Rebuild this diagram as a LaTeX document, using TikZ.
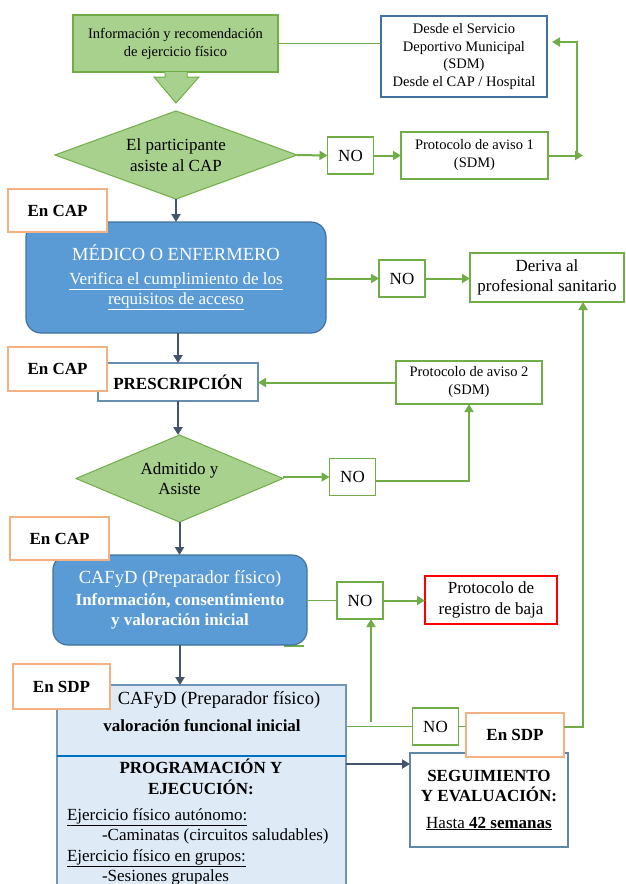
\documentclass[tikz,border=0pt]{standalone}
\usepackage{fontspec}
\setmainfont{Liberation Serif}
\usetikzlibrary{shapes.geometric,arrows.meta,calc}
\definecolor{gfill}{HTML}{A9D18E}
\definecolor{gline}{HTML}{70AD47}
\definecolor{darkc}{HTML}{44546A}
\definecolor{bfill}{HTML}{5B9BD5}
\definecolor{bline}{HTML}{41719C}
\definecolor{lbfill}{HTML}{DEEBF7}
\definecolor{orng}{HTML}{F4B183}
\definecolor{sepc}{HTML}{0070C0}
\begin{document}
\begin{tikzpicture}[x=1pt,y=-1pt,
  every node/.style={inner sep=0pt, outer sep=0pt, align=center, text=black},
  body/.style={font=\fontsize{17}{20.5}\selectfont},
  bodyb/.style={font=\fontsize{17}{20.5}\selectfont\bfseries},
  small/.style={font=\fontsize{14.5}{18}\selectfont},
  gbox/.style={draw=gline, line width=1.5pt, fill=white},
  nobox/.style={gbox, body, minimum width=46, minimum height=37},
  enbox/.style={draw=orng, line width=2pt, fill=white, bodyb},
  bluebox/.style={draw=bline, line width=1.2pt, fill=bfill, rounded corners=15pt, text=white, body},
  garrow/.style={draw=gline, line width=2pt, -{Triangle[length=8pt,width=9pt]}},
  gthin/.style={draw=gline, line width=1.5pt},
  darrow/.style={draw=darkc, line width=2pt, -{Triangle[length=8pt,width=9pt]}},
]
\useasboundingbox (0,0) rectangle (625,884);
\clip (0,0) rectangle (625,884);

% top part
\node[draw=gline, line width=1.2pt, fill=gfill, minimum width=205, minimum height=57, small] (info) at (175.5,43.5) {Información y recomendación\\de ejercicio físico};
\fill[gfill] (165,72) -- (187,72) -- (187,77) -- (199,77) -- (176,103) -- (154,77) -- (165,77) -- cycle;
\draw[gline, line width=1pt] (165,73) -- (165,77) -- (154,77) -- (176,103) -- (199,77) -- (187,77) -- (187,73);
\node[diamond, aspect=2.75, draw=gline, line width=1pt, fill=gfill, minimum width=242, minimum height=88, body] (d1) at (176,155) {El participante\\asiste al CAP};
\node[draw=bline, line width=1.2pt, fill=white, minimum width=166, minimum height=81, font=\fontsize{14.5}{17.5}\selectfont] (desde) at (464,56.5) {Desde el Servicio\\Deportivo Municipal\\(SDM)\\Desde el CAP / Hospital};
\node[nobox] (no1) at (350.5,155.5) {NO};
\node[gbox, small, minimum width=147, minimum height=47] (p1) at (474.5,155.5) {Protocolo de aviso 1\\(SDM)};

\draw[gthin] (info.east) -- (info.east -| desde.west);
\draw[garrow] (d1.east) -- (no1.west);
\draw[garrow] (no1.east) -- (p1.west);
\coordinate (r1) at (583,155.5);
\coordinate (r2) at (577,155.5);
\coordinate (r3) at (577,42);
\coordinate (r4) at (552,42);
\draw[garrow] (p1.east) -- (r1);
\draw[garrow] (r2) -- (r3) -- (r4);

% medico
\node[bluebox, minimum width=300, minimum height=111] (med) at (176,277.5) {{\fontsize{18.5}{22}\selectfont MÉDICO O ENFERMERO}\\[3pt]\underline{Verifica el cumplimiento de los}\\\underline{requisitos de acceso}};
\node[enbox, minimum width=99, minimum height=43] (en1) at (57.5,210.5) {En CAP};
\node[nobox] (no2) at (402,278.5) {NO};
\node[gbox, body, minimum width=154, minimum height=49] (der) at (547,277.5) {Deriva al\\profesional sanitario};
\draw[darrow] (d1.south) -- (d1.south |- med.north);
\draw[garrow] (no2.west -| med.east) -- (no2.west);
\draw[garrow] (no2.east) -- (no2.east -| der.west);

% prescripcion
\node[draw=bline!80, line width=1.2pt, fill=white, minimum width=160, minimum height=38, bodyb] (presc) at (178,382) {PRESCRIPCIÓN};
\node[enbox, minimum width=99, minimum height=44] (en2) at (57.5,369) {En CAP};
\node[gbox, small, minimum width=146, minimum height=43] (p2) at (469,382.5) {Protocolo de aviso 2\\(SDM)};
\draw[darrow] (presc.north |- med.south) -- (presc.north);
\draw[garrow] (p2.west) -- (p2.west -| presc.east);

% admitido
\node[diamond, aspect=2.38, draw=gline, line width=1pt, fill=gfill, minimum width=207, minimum height=87, body] (d2) at (179.5,478.5) {Admitido y\\Asiste};
\node[nobox] (no3) at (352.5,477) {NO};
\draw[darrow] (presc.south) -- (presc.south |- d2.north);
\draw[garrow] (no3.west -| d2.east) -- (no3.west);
\draw[draw=gline, line width=1.5pt, -{Triangle[length=8pt,width=9pt]}] ([yshift=-4pt]no3.east) -| (p2.south);

% cafyd
\draw[gthin] (284,646) -- (304,646);
\node[bluebox, minimum width=254, minimum height=90] (caf) at (180,600) {{\fontsize{18.5}{22}\selectfont CAFyD (Preparador físico)}\\[1pt]\textbf{Información, consentimiento}\\\textbf{y valoración inicial}};
\node[enbox, minimum width=99, minimum height=43] (en3) at (59.5,538.5) {En CAP};
\node[nobox] (no4) at (360,600.5) {NO};
\node[draw=red, line width=1.5pt, fill=white, minimum width=132, minimum height=48, body] (baja) at (491,600) {Protocolo de\\registro de baja};
\draw[darrow] (d2.south) -- (d2.south |- caf.north);
\draw[gthin] (caf.east |- no4.west) -- (no4.west);
\draw[garrow] (no4.east) -- (no4.east -| baja.west);

% programacion
\node[draw=bline!75, line width=1.2pt, fill=lbfill, minimum width=289, minimum height=230] (prog) at (201.5,800) {};
\draw[sepc, line width=2.5pt] ($(prog.north west)+(0,71)$) -- ($(prog.north east)+(0,71)$);
\node[font=\fontsize{18.5}{22}\selectfont] (t1) at (219,700) {CAFyD (Preparador físico)};
\node[bodyb] (t2) at (202,726) {valoración funcional inicial};
\node[bodyb] (t3) at (201,777) {PROGRAMACIÓN Y\\EJECUCIÓN:};
\node[body, anchor=base west] (t4) at (67,820) {\underline{Ejercicio físico autónomo:}};
\node[body, anchor=base west] (t5) at (102,840.5) {-Caminatas (circuitos saludables)};
\node[body, anchor=base west] (t6) at (67,861) {\underline{Ejercicio físico en grupos:}};
\node[body, anchor=base west] (t7) at (102,881.5) {-Sesiones grupales};
\node[enbox, minimum width=97, minimum height=45] (sdp1) at (61.5,686.5) {En SDP};
\draw[darrow] (caf.south) -- (caf.south |- prog.north);

% seguimiento
\node[draw=bline!85, line width=1.2pt, fill=white, minimum width=158, minimum height=94, bodyb] (seg) at (489,800) {SEGUIMIENTO\\Y EVALUACIÓN:\\[6pt]\mdseries\underline{Hasta \textbf{42 semanas}}};
\node[nobox] (no5) at (435.5,726.5) {NO};
\node[enbox, minimum width=98, minimum height=44] (sdp2) at (515,735) {En SDP};
\coordinate (s1) at (346,764);
\draw[darrow] (s1) -- (s1 -| seg.west);
\coordinate (v1) at (371,722);
\draw[garrow] (v1) -- (v1 |- no4.south);
\draw[gthin] (no5.west -| prog.east) -- (no5.west);
\draw[gthin] (no5.east) -- (no5.east -| sdp2.west);
\coordinate (v2) at (583,726.5);
\draw[garrow] (no5.east -| sdp2.east) -- (v2) -- (v2 |- der.south);
\end{tikzpicture}
\end{document}
